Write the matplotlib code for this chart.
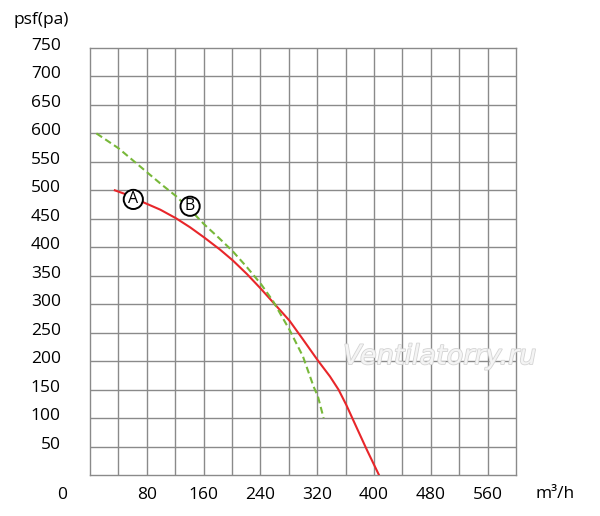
"""Fan pressure curves A and B, psf(pa) vs airflow m³/h."""

import matplotlib
matplotlib.use("Agg")
import matplotlib.pyplot as plt
import matplotlib.patheffects as pe
import matplotlib.transforms as mtransforms
import numpy as np

# curve A (solid red) and B (dashed green)
flow_a = [35, 55, 75, 99, 121, 141, 161, 183, 201, 221, 240, 258, 281, 300,
          321, 338, 350, 361, 376, 390, 407]
psf_a = [500, 491, 479, 466, 451, 435, 417, 396, 377, 353, 328, 303, 271, 238,
         201, 173, 150, 123, 82, 44, 0]

flow_b = [9, 40, 61, 80, 101, 121, 141, 161, 181, 201, 221, 241, 258, 281,
          300, 315, 321, 329]
psf_b = [600, 574, 552, 532, 510, 490, 466, 440, 417, 393, 365, 335, 305, 255,
         208, 155, 138, 100]

x_ticks = [80, 160, 240, 320, 400, 480, 560]
y_ticks = [50, 100, 150, 200, 250, 300, 350, 400, 450, 500, 550, 600, 650, 700, 750]

FONT = "Open Sans"
FS = 12.5
GRID = "#8a8a8a"

fig = plt.figure(figsize=(6.0, 5.16), dpi=100)
ax = fig.add_axes([0.15, 0.0795, 0.71, 0.8275])
ax.set_xlim(0, 600)
ax.set_ylim(0, 750)

# grid every 40 m³/h and 50 pa
for gx in np.arange(40, 600, 40):
    ax.axvline(gx, color=GRID, linewidth=1.0, zorder=0)
for gy in np.arange(50, 750, 50):
    ax.axhline(gy, color=GRID, linewidth=1.0, zorder=0)
for sp in ax.spines.values():
    sp.set_color(GRID)
    sp.set_linewidth(1.0)

ax.set_xticks(x_ticks)
ax.set_yticks(y_ticks)
ax.tick_params(length=0)
ax.tick_params(axis="x", pad=9, labelsize=FS)
ax.tick_params(axis="y", pad=21, labelsize=FS)
for lbl in ax.get_xticklabels() + ax.get_yticklabels():
    lbl.set_family(FONT)
# y labels sit a few px above their grid lines
shift = mtransforms.ScaledTranslation(0, 4 / 100, fig.dpi_scale_trans)
for lbl in ax.get_yticklabels():
    lbl.set_transform(lbl.get_transform() + shift)

ax.plot(flow_a, psf_a, color="#e8262a", linewidth=1.5, zorder=3)
ax.plot(flow_b, psf_b, color="#78b83a", linewidth=1.5,
        linestyle=(0, (3.3, 1.8)), zorder=3)

circ = dict(boxstyle="circle,pad=0.1", facecolor="white", edgecolor="black", linewidth=1.4)
ax.text(61, 484, "A", ha="center", va="center", fontsize=11.5, family=FONT,
        bbox=circ, zorder=4)
ax.text(141, 472, "B", ha="center", va="center", fontsize=11.5, family=FONT,
        bbox=circ, zorder=4)

fig.text(0.022, 0.962, "psf(pa)", fontsize=FS, family=FONT, va="center")
fig.text(0.103, 0.041, "0", fontsize=FS, family=FONT, ha="center", va="center")
fig.text(0.925, 0.043, "m³/h", fontsize=FS, family=FONT, ha="center", va="center")

# watermark
fig.text(0.733, 0.308, "Ventilatorry.ru", fontsize=19.5, family="DejaVu Sans",
         style="italic", color="#f4f4f4", ha="center", va="center", zorder=5,
         path_effects=[pe.withStroke(linewidth=1.2, foreground="#d4d4d4")])

fig.savefig("out.png", dpi=100)
